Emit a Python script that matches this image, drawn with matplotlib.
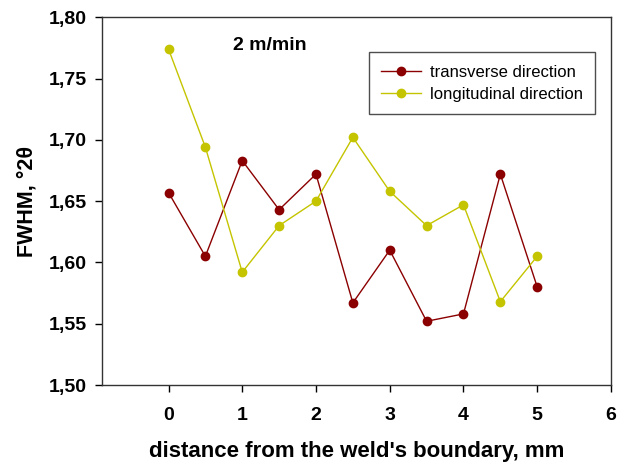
import matplotlib
matplotlib.use("Agg")
import matplotlib.pyplot as plt
from matplotlib.ticker import FuncFormatter

plt.rcParams['font.family'] = ['Liberation Sans', 'DejaVu Sans']

distance = [0, 0.5, 1, 1.5, 2, 2.5, 3, 3.5, 4, 4.5, 5]
transverse = [1.657, 1.605, 1.683, 1.643, 1.672, 1.567, 1.610, 1.552, 1.558, 1.672, 1.580]
longitudinal = [1.774, 1.694, 1.592, 1.630, 1.650, 1.702, 1.658, 1.630, 1.647, 1.568, 1.605]

fig = plt.figure(figsize=(6.19, 4.65), dpi=100)
ax = fig.add_axes([0.165, 0.172, 0.822, 0.791])

ax.plot(distance, transverse, color='#8b0000', lw=1, marker='o', ms=6,
        label='transverse direction')
ax.plot(distance, longitudinal, color='#c4c400', lw=1, marker='o', ms=6,
        label='longitudinal direction')

ax.set_xlim(-0.9, 6)
ax.set_ylim(1.50, 1.80)
ax.set_xticks(range(0, 7))
ax.set_yticks([1.50, 1.55, 1.60, 1.65, 1.70, 1.75, 1.80])
ax.yaxis.set_major_formatter(FuncFormatter(lambda v, p: f'{v:.2f}'.replace('.', ',')))
ax.tick_params(direction='out', length=5, width=1, labelsize=14)
for lab in ax.get_xticklabels() + ax.get_yticklabels():
    lab.set_fontweight('bold')
ax.xaxis.set_tick_params(pad=11)
ax.yaxis.set_tick_params(pad=6)

for s in ax.spines.values():
    s.set_color('#333333')
    s.set_linewidth(1)

ax.set_xlabel("distance from the weld's boundary, mm", fontsize=16, fontweight='bold', labelpad=12)
ax.set_ylabel('FWHM, °2θ', fontsize=15.5, fontweight='bold', labelpad=8)

ax.text(0.88, 1.777, '2 m/min', fontsize=14, fontweight='bold', va='center')

leg = ax.legend(loc='upper right', bbox_to_anchor=(0.969, 0.905), borderaxespad=0,
                fontsize=12, frameon=True, fancybox=False, handlelength=2.35,
                handletextpad=0.55, borderpad=0.75, labelspacing=0.42)
leg.get_frame().set_edgecolor('#222222')
leg.get_frame().set_linewidth(1)

fig.savefig('out.png', dpi=100)
